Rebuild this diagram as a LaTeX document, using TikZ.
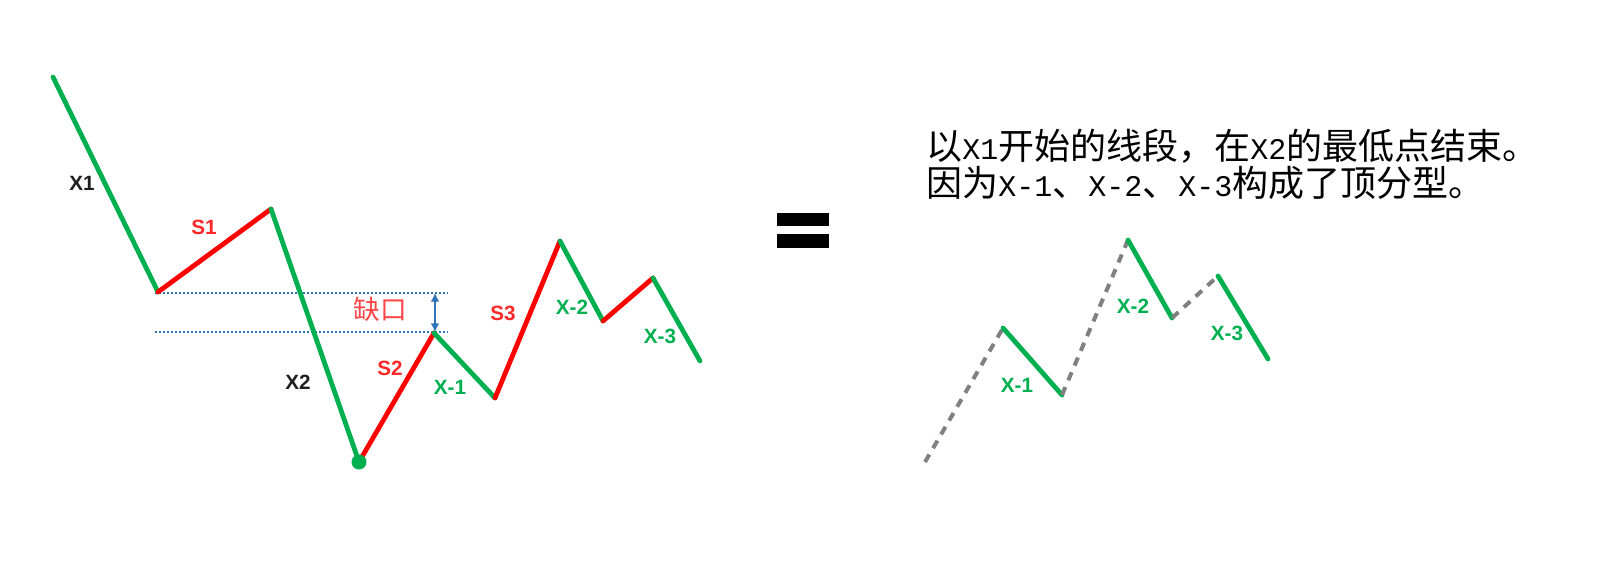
\documentclass[tikz,border=0pt]{standalone}
\usepackage{fontspec}
\setmainfont{Liberation Sans}
\newfontfamily\cjk{Noto Sans CJK SC}
\newfontfamily\latinmono{Liberation Mono}
\newcommand{\hw}[1]{{\latinmono\fontsize{22.5}{26}\selectfont #1}}
\usetikzlibrary{arrows.meta}

\begin{document}
\begin{tikzpicture}[x=0.75pt,y=0.75pt,yscale=-1,xscale=1,
  downleg/.style={draw={rgb, 255:red, 0; green, 176; blue, 80 }, line width=3.6pt, line cap=round, line join=round},
  upleg/.style={draw={rgb, 255:red, 255; green, 0; blue, 0 }, line width=3.6pt, line cap=round, line join=round},
  skipleg/.style={draw={rgb, 255:red, 128; green, 128; blue, 128 }, line width=3pt, dash pattern=on 6.5pt off 5.5pt},
  gapline/.style={draw={rgb, 255:red, 46; green, 117; blue, 182 }, line width=0.8pt, dash pattern=on 1.5pt off 1.5pt},
  leglab/.style={inner sep=0.75pt, font=\fontsize{15.5}{18}\selectfont\bfseries},
  notetext/.style={anchor=west, inner sep=0pt, font=\fontsize{27}{31}\selectfont\cjk},
  ]
\path[use as bounding box] (0,0) rectangle (1601,575);

% vertices of the left chart
\coordinate (a0) at (53,77);
\coordinate (a1) at (158,292);
\coordinate (a2) at (271,209);
\coordinate (a3) at (359,462);
\coordinate (a4) at (434,333);
\coordinate (a5) at (495,398);
\coordinate (a6) at (560,241);
\coordinate (a7) at (603,321);
\coordinate (a8) at (653,278);
\coordinate (a9) at (700,361);

% gap lines
\coordinate (g1) at (155,293);
\coordinate (g2) at (448,293);
\coordinate (g3) at (155,332);
\coordinate (g4) at (448,332);
\coordinate (gt) at (435,293);
\coordinate (gb) at (435,332);
\draw [gapline] (g1) -- (g2) ;
\draw [gapline] (g3) -- (g4) ;
\draw [draw={rgb, 255:red, 46; green, 117; blue, 182 }, line width=1pt, {Latex[length=6.5pt,width=6.5pt]}-{Latex[length=6.5pt,width=6.5pt]}] (gt) -- (gb) ;

%Straight Lines
\draw [downleg] (a0) -- (a1) ;
\draw [upleg] (a1) -- (a2) ;
\draw [downleg] (a2) -- (a3) ;
\draw [upleg] (a3) -- (a4) ;
\draw [downleg] (a4) -- (a5) ;
\draw [upleg] (a5) -- (a6) ;
\draw [downleg] (a6) -- (a7) ;
\draw [upleg] (a7) -- (a8) ;
\draw [downleg] (a8) -- (a9) ;

%Shape: Circle
\fill [fill={rgb, 255:red, 0; green, 176; blue, 80 }] (a3) circle [radius=7.5] ;

% Text Node
\node [leglab, text={rgb, 255:red, 30; green, 30; blue, 30 }] (labX1) at (82,183) {X1};
\node [leglab, text={rgb, 255:red, 255; green, 40; blue, 40 }] (labS1) at (204,227) {S1};
\node [leglab, text={rgb, 255:red, 30; green, 30; blue, 30 }] (labX2) at (298,382) {X2};
\node [leglab, text={rgb, 255:red, 255; green, 40; blue, 40 }] (labS2) at (390,368) {S2};
\node [leglab, text={rgb, 255:red, 255; green, 40; blue, 40 }] (labS3) at (503,313) {S3};
\node [leglab, text={rgb, 255:red, 0; green, 176; blue, 80 }] (labXa) at (450,387) {X-1};
\node [leglab, text={rgb, 255:red, 0; green, 176; blue, 80 }] (labXb) at (572,307) {X-2};
\node [leglab, text={rgb, 255:red, 0; green, 176; blue, 80 }] (labXc) at (660,336) {X-3};
\node [inner sep=0.75pt, text={rgb, 255:red, 255; green, 70; blue, 70 }, font=\fontsize{20}{24}\selectfont\cjk] (labGap) at (380,309) {缺口};

%Shape: Rectangle
\fill (777,213) rectangle (829,226) ;
\fill (777,234) rectangle (829,248) ;

% vertices of the right chart
\coordinate (b0) at (925,462);
\coordinate (b1) at (1003,328);
\coordinate (b2) at (1062,395);
\coordinate (b3) at (1128,240);
\coordinate (b4) at (1172,318);
\coordinate (b5) at (1218,276);
\coordinate (b6) at (1268,359);

%Straight Lines
\draw [skipleg] (b0) -- (b1) ;
\draw [downleg] (b1) -- (b2) ;
\draw [skipleg] (b2) -- (b3) ;
\draw [downleg] (b3) -- (b4) ;
\draw [skipleg] (b4) -- (b5) ;
\draw [downleg] (b5) -- (b6) ;

% Text Node
\node [leglab, text={rgb, 255:red, 0; green, 176; blue, 80 }] (labRa) at (1017,385) {X-1};
\node [leglab, text={rgb, 255:red, 0; green, 176; blue, 80 }] (labRb) at (1133,306) {X-2};
\node [leglab, text={rgb, 255:red, 0; green, 176; blue, 80 }] (labRc) at (1227,333) {X-3};

% Text Node
\node [notetext] (note1) at (926,146) {以\hw{X1}开始的线段，在\hw{X2}的最低点结束。};
\node [notetext] (note2) at (926,183) {因为\hw{X-1}、\hw{X-2}、\hw{X-3}构成了顶分型。};

\end{tikzpicture}
\end{document}
